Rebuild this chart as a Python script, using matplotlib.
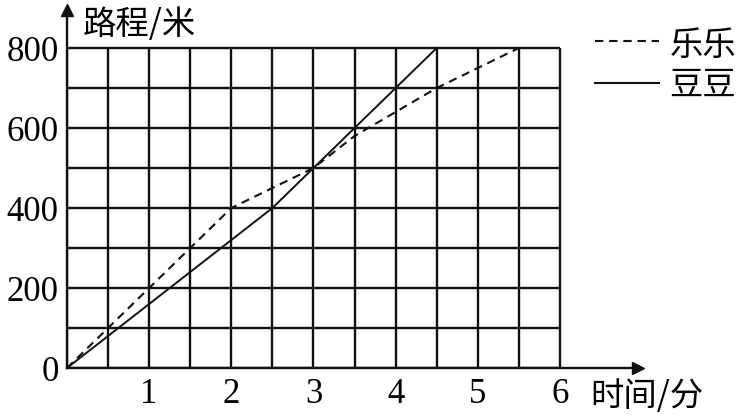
import numpy as np
import matplotlib.pyplot as plt

plt.rcParams['font.family'] = ['Liberation Serif', 'Noto Sans CJK SC', 'DejaVu Sans']

# data
lele_t = [0, 2, 3, 3.5, 4, 4.5, 5.5]
lele_d = [0, 400, 500, 580, 640, 700, 800]
doudou_t = [0, 2.5, 4.5]
doudou_d = [0, 400, 800]
x_ticks = [1, 2, 3, 4, 5, 6]
y_ticks = [0, 200, 400, 600, 800]
grid_x = np.arange(0, 6.01, 0.5)
grid_y = np.arange(0, 801, 100)

fig = plt.figure(figsize=(7.46, 4.15), dpi=100)
ax = fig.add_axes([67 / 746, 47 / 415, 571 / 746, 358 / 415])
ax.set_xlim(0, 6.95)
ax.set_ylim(0, 895)

# grid
ax.vlines(grid_x, 0, 800, color='#111111', lw=1.7, zorder=1)
ax.hlines(grid_y, 0, 6, color='#111111', lw=1.7, zorder=1)

ax.plot(lele_t, lele_d, color='#111111', lw=1.5, ls=(0, (4, 2.8)), zorder=3)
ax.plot(doudou_t, doudou_d, color='#111111', lw=1.4, zorder=3)

for s in ['top', 'right']:
    ax.spines[s].set_visible(False)
for s in ['left', 'bottom']:
    ax.spines[s].set_linewidth(1.7)
    ax.spines[s].set_color('#111111')
ax.plot(1, 0, '>', color='#111111', ms=9, transform=ax.get_yaxis_transform(), clip_on=False)
ax.plot(0, 1, '^', color='#111111', ms=9, transform=ax.get_xaxis_transform(), clip_on=False)

ax.set_xticks(x_ticks)
ax.set_xticklabels([str(v) for v in x_ticks], fontsize=25)
ax.set_yticks(y_ticks)
ax.set_yticklabels([str(v) for v in y_ticks], fontsize=25)
ax.tick_params(length=0)
ax.tick_params(axis='x', pad=7)
ax.tick_params(axis='y', pad=6)

ax.text(0.19, 858, '路程/米', fontsize=24, family=['Noto Sans CJK SC'], va='center', ha='left', clip_on=False)
ax.text(6.37, -72, '时间/分', fontsize=24, family=['Noto Sans CJK SC'], va='center', ha='left', clip_on=False)

# legend
lx = [6.43, 7.2]
ax.plot(lx, [817, 817], color='#111111', lw=1.5, ls=(0, (4, 2.8)), clip_on=False)
ax.plot(lx, [712, 712], color='#111111', lw=1.5, clip_on=False)
ax.text(7.33, 807, '乐乐', fontsize=24, family=['Noto Sans CJK SC'], va='center', ha='left', clip_on=False)
ax.text(7.33, 707, '豆豆', fontsize=24, family=['Noto Sans CJK SC'], va='center', ha='left', clip_on=False)

fig.savefig('out.png', dpi=100)
